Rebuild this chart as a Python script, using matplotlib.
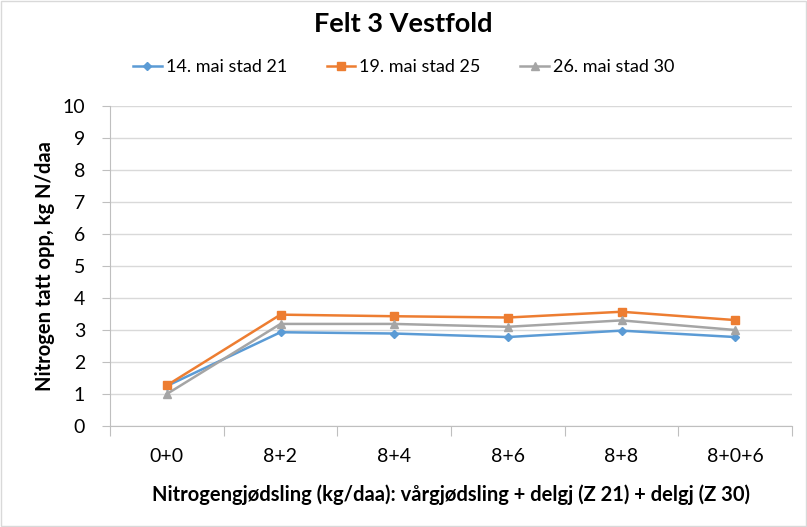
import numpy as np
import matplotlib.pyplot as plt

plt.rcParams["font.family"] = ["Lato", "DejaVu Sans"]

categories = ["0+0", "8+2", "8+4", "8+6", "8+8", "8+0+6"]
series_names = ["14. mai stad 21", "19. mai stad 25", "26. mai stad 30"]
stad21 = [1.25, 2.93, 2.89, 2.78, 2.98, 2.78]
stad25 = [1.27, 3.48, 3.43, 3.39, 3.57, 3.31]
stad30 = [1.0, 3.19, 3.19, 3.10, 3.30, 3.00]

colors = ["#5B9BD5", "#ED7D31", "#A5A5A5"]
markers = ["D", "s", "^"]
msizes = [4, 6, 6]

fig = plt.figure(figsize=(8.07, 5.27), dpi=100)
ax = fig.add_axes([110 / 807, 1 - 426 / 527, (792 - 110) / 807, (426 - 106) / 527])

x = np.arange(len(categories))
for vals, name, c, m, ms in zip([stad21, stad25, stad30], series_names, colors, markers, msizes):
    ax.plot(x, vals, color=c, marker=m, markersize=ms, linewidth=1.8, label=name)

ax.set_xlim(-0.5, len(categories) - 0.5)
ax.set_ylim(0, 10)
ax.set_yticks(range(0, 11))
ax.yaxis.grid(True, color="#D9D9D9", linewidth=1)
ax.set_axisbelow(True)

ax.set_xticks(np.arange(-0.5, len(categories)), minor=False)
ax.set_xticklabels([])
ax.set_xticks(x, minor=True)
ax.set_xticklabels(categories, minor=True)
ax.tick_params(axis="x", which="major", length=7, color="#BFBFBF", direction="out")
ax.tick_params(axis="x", which="minor", length=0, pad=16, labelsize=14)
ax.tick_params(axis="y", length=6, pad=12, color="#BFBFBF", labelsize=14)

for s in ["top", "right"]:
    ax.spines[s].set_visible(False)
for s in ["left", "bottom"]:
    ax.spines[s].set_color("#BFBFBF")

ax.set_ylabel("Nitrogen tatt opp, kg N/daa", fontsize=14.5, fontweight="bold", labelpad=5)
ax.set_xlabel("Nitrogengjødsling (kg/daa): vårgjødsling + delgj (Z 21) + delgj (Z 30)",
              fontsize=14.5, fontweight="bold", labelpad=14)

fig.suptitle("Felt 3 Vestfold", fontsize=19.5, fontweight="bold", y=0.978)
fig.legend(loc="upper center", bbox_to_anchor=(0.5, 0.918), ncol=3, frameon=False,
           fontsize=13, handlelength=1.6, columnspacing=2.2, handletextpad=0.2)

fig.patches.append(plt.Rectangle((0.001, 0.001), 0.998, 0.998, transform=fig.transFigure,
                                 fill=False, edgecolor="#D9D9D9", linewidth=1))

fig.savefig("out.png", dpi=100)
